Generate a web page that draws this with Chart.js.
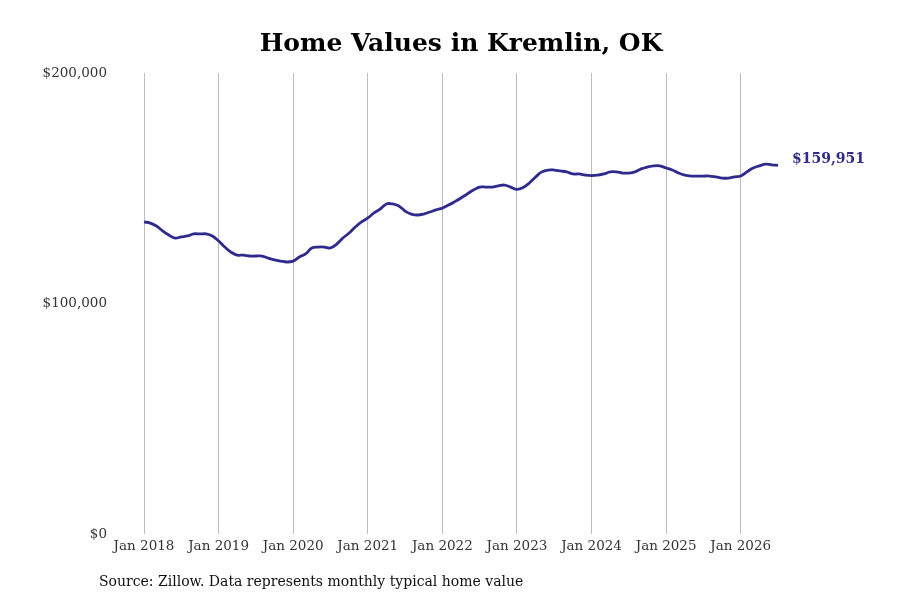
<!DOCTYPE html>
<html>
<head>
<meta charset="utf-8">
<script src="https://cdn.jsdelivr.net/npm/chart.js@4/dist/chart.umd.min.js"></script>
<style>
  html, body { margin: 0; padding: 0; background: #fff; }
  #wrap { width: 900px; height: 600px; }
</style>
</head>
<body>
<div id="wrap"><canvas id="homeChart" width="900" height="600"></canvas></div>
<script>
// Monthly typical home value, Jan 2018 .. Jul 2026
const startYear = 2018;
const monthNames = ["Jan", "Feb", "Mar", "Apr", "May", "Jun", "Jul", "Aug", "Sep", "Oct", "Nov", "Dec"];

const values2018 = [135400, 134900, 133600, 131500, 129700, 128400, 128900, 129300, 130200, 130200, 130200, 129300];
const values2019 = [127100, 124500, 122300, 121000, 121000, 120600, 120600, 120600, 119700, 118900, 118400, 118000];
const values2020 = [118400, 120200, 121500, 124100, 124500, 124500, 124100, 125800, 128400, 130600, 133200, 135400];
const values2021 = [137100, 139300, 141000, 143200, 143200, 142300, 140100, 138800, 138400, 138800, 139700, 140600];
const values2022 = [141400, 142700, 144200, 145800, 147500, 149200, 150500, 150500, 150500, 151000, 151400, 150500];
const values2023 = [149500, 150300, 152300, 154900, 157100, 157900, 157900, 157500, 157100, 156200, 156200, 155700];
const values2024 = [155500, 155700, 156200, 157100, 157100, 156600, 156600, 157100, 158400, 159200, 159700, 159700];
const values2025 = [158800, 157900, 156600, 155700, 155300, 155300, 155300, 155300, 154900, 154400, 154400, 154900];
const values2026 = [155300, 157100, 158800, 159700, 160500, 160100, 159951];

const homeValues = [].concat(values2018, values2019, values2020, values2021, values2022,
  values2023, values2024, values2025, values2026);
const monthLabels = homeValues.map((v, i) =>
  monthNames[i % 12] + " " + (startYear + Math.floor(i / 12)));

const yTicks = [0, 100000, 200000];
const chartTitle = "Home Values in Kremlin, OK";
const sourceNote = "Source: Zillow. Data represents monthly typical home value";
const lineColor = "#2e2b8c";
const serif = "'DejaVu Serif', serif";

const fmtMoney = (v) => "$" + Math.round(v).toLocaleString("en-US");

// title over the plot area, last-value label and source note
const extrasPlugin = {
  id: "extras",
  afterDatasetsDraw(chart) {
    const ctx = chart.ctx;
    const area = chart.chartArea;
    const meta = chart.getDatasetMeta(0);
    const last = meta.data[meta.data.length - 1];
    ctx.save();
    ctx.textBaseline = "middle";

    ctx.font = "bold 25px " + serif;
    ctx.fillStyle = "#000";
    ctx.textAlign = "center";
    ctx.fillText(chartTitle, (area.left + area.right) / 2, 44);

    ctx.font = "bold 14px " + serif;
    ctx.fillStyle = lineColor;
    ctx.textAlign = "left";
    ctx.fillText(fmtMoney(homeValues[homeValues.length - 1]), last.x + 14, last.y - 6);

    ctx.font = "14px " + serif;
    ctx.fillStyle = "#111";
    ctx.fillText(sourceNote, 99, 582);
    ctx.restore();
  },
};

const chart = new Chart(document.getElementById("homeChart").getContext("2d"), {
  type: "line",
  data: {
    labels: monthLabels,
    datasets: [
      {
        label: "Home value",
        data: homeValues,
        borderColor: lineColor,
        borderWidth: 2.8,
        pointRadius: 0,
        fill: false,
        tension: 0.4,
      },
    ],
  },
  options: {
    responsive: false,
    animation: false,
    layout: { padding: { left: 0, right: 122, top: 73, bottom: 0 } },
    plugins: {
      legend: { display: false },
      tooltip: { enabled: false },
      title: { display: false },
    },
    scales: {
      x: {
        type: "category",
        offset: false,
        border: { display: false },
        grid: {
          drawTicks: false,
          color: (c) => (c.index % 12 === 0 ? "#bdbdbd" : "rgba(0,0,0,0)"),
          lineWidth: 1,
        },
        ticks: {
          autoSkip: false,
          maxRotation: 0,
          minRotation: 0,
          padding: 4,
          color: "#333",
          font: { family: serif, size: 13.5 },
          callback: (v, i) => (i % 12 === 0 ? monthLabels[i] : ""),
        },
        afterFit: (s) => { s.height = 66; },
      },
      y: {
        min: yTicks[0],
        max: yTicks[yTicks.length - 1],
        border: { display: false },
        grid: { display: false, drawTicks: false },
        afterBuildTicks: (s) => { s.ticks = yTicks.map((v) => ({ value: v })); },
        ticks: {
          padding: 37,
          color: "#333",
          font: { family: serif, size: 13.5 },
          callback: (v) => fmtMoney(v),
        },
        afterFit: (s) => { s.width = 144; },
      },
    },
  },
  plugins: [extrasPlugin],
});
</script>
</body>
</html>
